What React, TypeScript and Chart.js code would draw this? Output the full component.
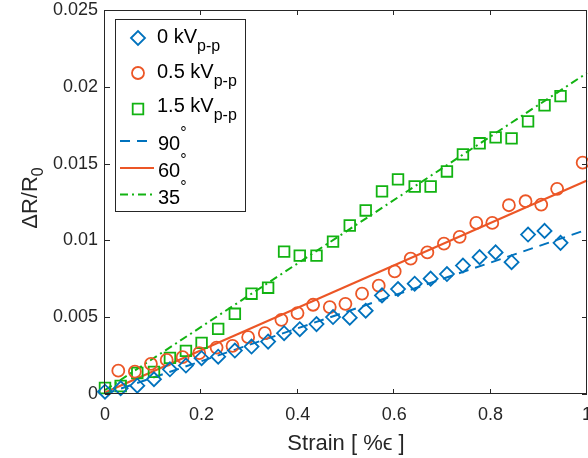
import React, { useEffect, useRef } from 'react';
import { Chart, registerables } from 'chart.js';
Chart.register(...registerables);

// ---------- data ----------
const strainBG = [0, 0.0325, 0.067, 0.1016, 0.1347, 0.1679, 0.2004, 0.2348, 0.2694, 0.304, 0.3384, 0.3716, 0.4041, 0.4388, 0.4731, 0.5078, 0.5409, 0.5747, 0.6079, 0.6425, 0.6756, 0.7094, 0.7426, 0.7772, 0.8104, 0.8435, 0.8777, 0.9119, 0.9451];
const kv0 = [0.00015, 0.00037, 0.00054, 0.00096, 0.00161, 0.00185, 0.00233, 0.00243, 0.00283, 0.00309, 0.00341, 0.00396, 0.00422, 0.00455, 0.00501, 0.00497, 0.00542, 0.00642, 0.00683, 0.00718, 0.00751, 0.00781, 0.00836, 0.00891, 0.00922, 0.00858, 0.01038, 0.01062, 0.00984];
const kv15 = [0.00039, 0.00052, 0.00137, 0.00144, 0.00235, 0.00281, 0.00333, 0.00424, 0.00522, 0.00653, 0.00692, 0.00927, 0.00901, 0.00901, 0.00992, 0.01097, 0.01195, 0.01319, 0.01397, 0.01351, 0.01351, 0.01449, 0.0156, 0.01632, 0.01671, 0.01664, 0.01775, 0.0188, 0.01939];
const strainO = [0.0276, 0.062, 0.0953, 0.128, 0.161, 0.1955, 0.2315, 0.2646, 0.297, 0.3316, 0.366, 0.3994, 0.4317, 0.4663, 0.4988, 0.5333, 0.5679, 0.601, 0.6342, 0.6688, 0.7032, 0.7358, 0.7703, 0.8035, 0.838, 0.8725, 0.905, 0.938, 0.991];
const kv05 = [0.00152, 0.00146, 0.00196, 0.00222, 0.0024, 0.00266, 0.00302, 0.00313, 0.0037, 0.00396, 0.00483, 0.00527, 0.00581, 0.00566, 0.00587, 0.00653, 0.00705, 0.00798, 0.00881, 0.00922, 0.00979, 0.01023, 0.01114, 0.01114, 0.01229, 0.01255, 0.01233, 0.01336, 0.01506];

const fitX = [0, 1];
const fit90 = [0, 0.0107];
const fit60 = [0.0001, 0.0139];
const fit35 = [0.00025, 0.0209];

const xTickValues = [0, 0.2, 0.4, 0.6, 0.8, 1];
const xTickLabels = ['0', '0.2', '0.4', '0.6', '0.8', '1'];
const yTickValues = [0, 0.005, 0.01, 0.015, 0.02, 0.025];
const yTickLabels = ['0', '0.005', '0.01', '0.015', '0.02', '0.025'];

const BLUE = '#0072BD';
const ORANGE = '#EC5626';
const GREEN = '#12B312';
const AX = '#262626';
const FONT = '"Liberation Sans", Arial, Helvetica, sans-serif';

const pts = (xs: number[], ys: number[]) => xs.map((x, i) => ({ x, y: ys[i] }));

function drawMarker(ctx: CanvasRenderingContext2D, kind: string, x: number, y: number, color: string) {
  ctx.save();
  ctx.strokeStyle = color;
  ctx.lineWidth = 1.8;
  ctx.beginPath();
  if (kind === 'diamond') {
    ctx.moveTo(x - 7, y); ctx.lineTo(x, y - 7); ctx.lineTo(x + 7, y); ctx.lineTo(x, y + 7); ctx.closePath();
  } else if (kind === 'circle') {
    ctx.arc(x, y, 6, 0, Math.PI * 2);
  } else {
    ctx.rect(x - 5.3, y - 5.3, 10.6, 10.6);
  }
  ctx.stroke();
  ctx.restore();
}

const decorPlugin = {
  id: 'decor',
  afterDraw(chart: any) {
    const ctx: CanvasRenderingContext2D = chart.ctx;
    const a = chart.chartArea;
    const xs = chart.scales.x, ys = chart.scales.y;
    ctx.save();
    // frame
    ctx.strokeStyle = AX;
    ctx.lineWidth = 1;
    ctx.strokeRect(Math.round(a.left) - 0.5, Math.round(a.top) + 0.5, Math.round(a.right - a.left), Math.round(a.bottom - a.top) - 1);
    // inward ticks
    ctx.beginPath();
    xTickValues.forEach((v) => {
      const px = Math.round(xs.getPixelForValue(v)) - 0.5;
      ctx.moveTo(px, a.bottom); ctx.lineTo(px, a.bottom - 5);
      ctx.moveTo(px, a.top); ctx.lineTo(px, a.top + 5);
    });
    yTickValues.forEach((v) => {
      const py = Math.round(ys.getPixelForValue(v)) + 0.5;
      ctx.moveTo(a.left, py); ctx.lineTo(a.left + 5, py);
      ctx.moveTo(a.right, py); ctx.lineTo(a.right - 5, py);
    });
    ctx.stroke();

    // x title
    ctx.fillStyle = AX;
    ctx.font = `22px ${FONT}`;
    ctx.textAlign = 'center';
    ctx.textBaseline = 'alphabetic';
    ctx.fillText('Strain [ %ϵ ]', 346, 450);

    // y title with subscript
    ctx.save();
    ctx.translate(37, 198);
    ctx.rotate(-Math.PI / 2);
    ctx.textAlign = 'left';
    ctx.font = `22px ${FONT}`;
    const main = 'ΔR/R';
    const mw = ctx.measureText(main).width;
    ctx.font = `16px ${FONT}`;
    const sw = ctx.measureText('0').width;
    const start = -(mw + sw) / 2;
    ctx.font = `22px ${FONT}`;
    ctx.fillText(main, start, 0);
    ctx.font = `16px ${FONT}`;
    ctx.fillText('0', start + mw, 6);
    ctx.restore();

    // legend
    const L = 115, T = 19, R = 246, B = 212;
    ctx.fillStyle = '#ffffff';
    ctx.fillRect(L, T, R - L, B - T);
    ctx.strokeStyle = AX;
    ctx.lineWidth = 1;
    ctx.strokeRect(L + 0.5, T + 0.5, R - L - 1, B - T - 1);

    ctx.textAlign = 'left';
    ctx.textBaseline = 'alphabetic';
    const tx = 157;
    const markerRows = [
      { kind: 'diamond', color: BLUE, my: 38, label: '0 kV', base: 43 },
      { kind: 'circle', color: ORANGE, my: 73, label: '0.5 kV', base: 78 },
      { kind: 'square', color: GREEN, my: 109, label: '1.5 kV', base: 112 },
    ];
    markerRows.forEach((r) => {
      drawMarker(ctx, r.kind, 138, r.my, r.color);
      ctx.fillStyle = '#000';
      ctx.font = `20px ${FONT}`;
      ctx.fillText(r.label, tx, r.base);
      const w = ctx.measureText(r.label).width;
      ctx.font = `16px ${FONT}`;
      ctx.fillText('p-p', tx + w, r.base + 7.5);
    });
    const lineRows = [
      { color: BLUE, dash: [10, 7], ly: 141, label: '90', base: 150 },
      { color: ORANGE, dash: [], ly: 168, label: '60', base: 177 },
      { color: GREEN, dash: [8, 4, 2, 4], ly: 194.5, label: '35', base: 204 },
    ];
    lineRows.forEach((r) => {
      ctx.save();
      ctx.strokeStyle = r.color;
      ctx.lineWidth = 2;
      ctx.setLineDash(r.dash);
      ctx.beginPath();
      ctx.moveTo(120, r.ly); ctx.lineTo(154, r.ly);
      ctx.stroke();
      ctx.restore();
      ctx.fillStyle = '#000';
      ctx.font = `20px ${FONT}`;
      ctx.fillText(r.label, 158, r.base);
      const w = ctx.measureText(r.label).width;
      ctx.font = `16px ${FONT}`;
      ctx.fillText('°', 158 + w, r.base - 12);
    });
    ctx.restore();
  },
};

export default function App() {
  const ref = useRef<HTMLCanvasElement | null>(null);
  useEffect(() => {
    if (!ref.current) return;
    const markerDs = (label: string, data: any[], color: string, style: string, radius: number) => ({
      label, data, showLine: false, pointStyle: style, pointRadius: radius,
      borderColor: color, backgroundColor: 'rgba(0,0,0,0)', borderWidth: 1.8, clip: false as any,
    });
    const lineDs = (label: string, data: any[], color: string, dash: number[]) => ({
      label, data, showLine: true, pointRadius: 0, borderColor: color, backgroundColor: color,
      borderWidth: 2, borderDash: dash, clip: false as any,
    });
    const chart = new Chart(ref.current, {
      type: 'scatter',
      data: {
        datasets: [
          markerDs('0 kVp-p', pts(strainBG, kv0), BLUE, 'rectRot', 7),
          markerDs('0.5 kVp-p', pts(strainO, kv05), ORANGE, 'circle', 6),
          markerDs('1.5 kVp-p', pts(strainBG, kv15), GREEN, 'rect', 7.5),
          lineDs('90°', pts(fitX, fit90), BLUE, [10, 7]),
          lineDs('60°', pts(fitX, fit60), ORANGE, []),
          lineDs('35°', pts(fitX, fit35), GREEN, [8, 4, 2, 4]),
        ] as any,
      },
      options: {
        animation: false,
        responsive: false,
        devicePixelRatio: 1,
        layout: { autoPadding: false, padding: { top: 10, right: 1, left: 0, bottom: 0 } },
        plugins: { legend: { display: false }, tooltip: { enabled: false } },
        scales: {
          x: {
            type: 'linear', min: 0, max: 1,
            grid: { display: false, drawTicks: false },
            border: { display: false },
            afterBuildTicks: (s: any) => { s.ticks = xTickValues.map((v) => ({ value: v })); },
            afterFit: (s: any) => { s.height = 64; s.paddingLeft = 0; s.paddingRight = 0; },
            ticks: {
              padding: 10, color: AX, maxRotation: 0, autoSkip: false,
              font: { family: FONT, size: 18 },
              callback: (_v: any, i: number) => xTickLabels[i],
            },
          },
          y: {
            type: 'linear', min: 0, max: 0.025,
            grid: { display: false, drawTicks: false },
            border: { display: false },
            afterBuildTicks: (s: any) => { s.ticks = yTickValues.map((v) => ({ value: v })); },
            afterFit: (s: any) => { s.width = 105; s.paddingTop = 0; s.paddingBottom = 0; },
            ticks: {
              padding: 7, color: AX, autoSkip: false,
              font: { family: FONT, size: 18 },
              callback: (_v: any, i: number) => yTickLabels[i],
            },
          },
        },
      } as any,
      plugins: [decorPlugin],
    });
    return () => chart.destroy();
  }, []);
  return (
    <div style={{ position: 'fixed', left: 0, top: 0, width: 588, height: 458, background: '#fff' }}>
      <canvas ref={ref} width={588} height={458} style={{ display: 'block' }} />
    </div>
  );
}
